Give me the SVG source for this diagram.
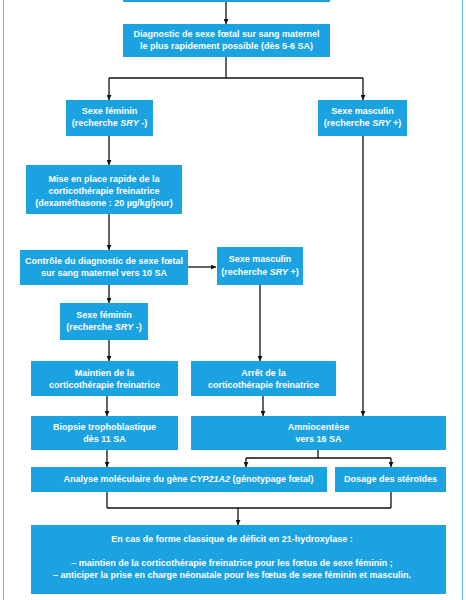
<svg xmlns="http://www.w3.org/2000/svg" width="466" height="600" viewBox="0 0 466 600">
<defs>
<style>
.b{fill:#1ba3e1}
.t{font-family:"Liberation Sans",Arial,sans-serif;font-size:9px;font-weight:bold;fill:#fff;text-anchor:middle}
.i{font-style:italic}
.c{stroke:#111;stroke-width:1.3;fill:none}
</style>
<marker id="ah" viewBox="0 0 10 10" refX="10" refY="5" markerWidth="5" markerHeight="5" markerUnits="userSpaceOnUse" orient="auto">
<path d="M0,0 L10,5 L0,10 z" fill="#111"/>
</marker>
</defs>
<rect width="466" height="600" fill="#fff"/>
<rect x="3.5" y="-10" width="459" height="620" fill="none" stroke="#5bbce9" stroke-width="1"/>

<g id="connectors">
<path class="c" d="M226,2 V24" marker-end="url(#ah)"/>
<path class="c" d="M226,57 V78 M109,78 H363"/>
<path class="c" d="M109,78 V100" marker-end="url(#ah)"/>
<path class="c" d="M363,78 V100" marker-end="url(#ah)"/>
<path class="c" d="M109,136 V165" marker-end="url(#ah)"/>
<path class="c" d="M109,214 V250" marker-end="url(#ah)"/>
<path class="c" d="M188,267 H216" marker-end="url(#ah)"/>
<path class="c" d="M109,285 V303" marker-end="url(#ah)"/>
<path class="c" d="M109,340 V361" marker-end="url(#ah)"/>
<path class="c" d="M260,285 V361" marker-end="url(#ah)"/>
<path class="c" d="M107,396 V416" marker-end="url(#ah)"/>
<path class="c" d="M263,396 V416" marker-end="url(#ah)"/>
<path class="c" d="M363,136 V416" marker-end="url(#ah)"/>
<path class="c" d="M107,450 V467" marker-end="url(#ah)"/>
<path class="c" d="M318,450 V458 M246,458 H391"/>
<path class="c" d="M246,458 V467" marker-end="url(#ah)"/>
<path class="c" d="M391,458 V467" marker-end="url(#ah)"/>
<path class="c" d="M107,492 V508 M391,492 V508 M107,508 H391"/>
<path class="c" d="M238,508 V525" marker-end="url(#ah)"/>
</g>

<g id="top"><rect class="b" x="123" y="-20" width="207" height="22"/></g>

<g id="diag">
<rect class="b" x="123" y="24" width="207" height="33"/>
<text class="t" x="226.5" y="37">Diagnostic de sexe fœtal sur sang maternel</text>
<text class="t" x="226.5" y="49">le plus rapidement possible (dès 5-6 SA)</text>
</g>

<g id="fem1">
<rect class="b" x="66" y="100" width="87" height="36"/>
<text class="t" x="109.5" y="114">Sexe féminin</text>
<text class="t" x="109.5" y="126">(recherche <tspan class="i">SRY</tspan> -)</text>
</g>

<g id="masc1">
<rect class="b" x="318" y="100" width="89" height="36"/>
<text class="t" x="362.5" y="114">Sexe masculin</text>
<text class="t" x="362.5" y="126">(recherche <tspan class="i">SRY</tspan> +)</text>
</g>

<g id="mise">
<rect class="b" x="26" y="165" width="156" height="49"/>
<text class="t" x="104" y="182">Mise en place rapide de la</text>
<text class="t" x="104" y="194">corticothérapie freinatrice</text>
<text class="t" x="104" y="206">(dexaméthasone : 20 µg/kg/jour)</text>
</g>

<g id="controle">
<rect class="b" x="20" y="250" width="168" height="35"/>
<text class="t" x="104" y="264">Contrôle du diagnostic de sexe fœtal</text>
<text class="t" x="104" y="276">sur sang maternel vers 10 SA</text>
</g>

<g id="masc2">
<rect class="b" x="217" y="247" width="86" height="38"/>
<text class="t" x="260" y="262">Sexe masculin</text>
<text class="t" x="260" y="275">(recherche <tspan class="i">SRY</tspan> +)</text>
</g>

<g id="fem2">
<rect class="b" x="60" y="303" width="88" height="37"/>
<text class="t" x="104" y="318">Sexe féminin</text>
<text class="t" x="104" y="330">(recherche <tspan class="i">SRY</tspan> -)</text>
</g>

<g id="maintien">
<rect class="b" x="31" y="361" width="147" height="35"/>
<text class="t" x="104.5" y="376">Maintien de la</text>
<text class="t" x="104.5" y="388">corticothérapie freinatrice</text>
</g>

<g id="arret">
<rect class="b" x="191" y="361" width="145" height="35"/>
<text class="t" x="263.5" y="376">Arrêt de la</text>
<text class="t" x="263.5" y="388">corticothérapie freinatrice</text>
</g>

<g id="biopsie">
<rect class="b" x="31" y="416" width="147" height="34"/>
<text class="t" x="104.5" y="430">Biopsie trophoblastique</text>
<text class="t" x="104.5" y="442">dès 11 SA</text>
</g>

<g id="amnio">
<rect class="b" x="191" y="416" width="255" height="34"/>
<text class="t" x="318.5" y="430">Amniocentèse</text>
<text class="t" x="318.5" y="442">vers 16 SA</text>
</g>

<g id="analyse">
<rect class="b" x="31" y="467" width="296" height="25"/>
<text class="t" x="188.5" y="482">Analyse moléculaire du gène <tspan class="i">CYP21A2</tspan> (génotypage fœtal)</text>
</g>

<g id="dosage">
<rect class="b" x="335" y="467" width="111" height="25"/>
<text class="t" x="390.5" y="482">Dosage des stéroïdes</text>
</g>

<g id="final">
<rect class="b" x="31" y="525" width="415" height="69"/>
<text class="t" x="232" y="542">En cas de forme classique de déficit en 21-hydroxylase :</text>
<text class="t" x="232" y="566">– maintien de la corticothérapie freinatrice pour les fœtus de sexe féminin ;</text>
<text class="t" x="232" y="578">– anticiper la prise en charge néonatale pour les fœtus de sexe féminin et masculin.</text>
</g>
</svg>
